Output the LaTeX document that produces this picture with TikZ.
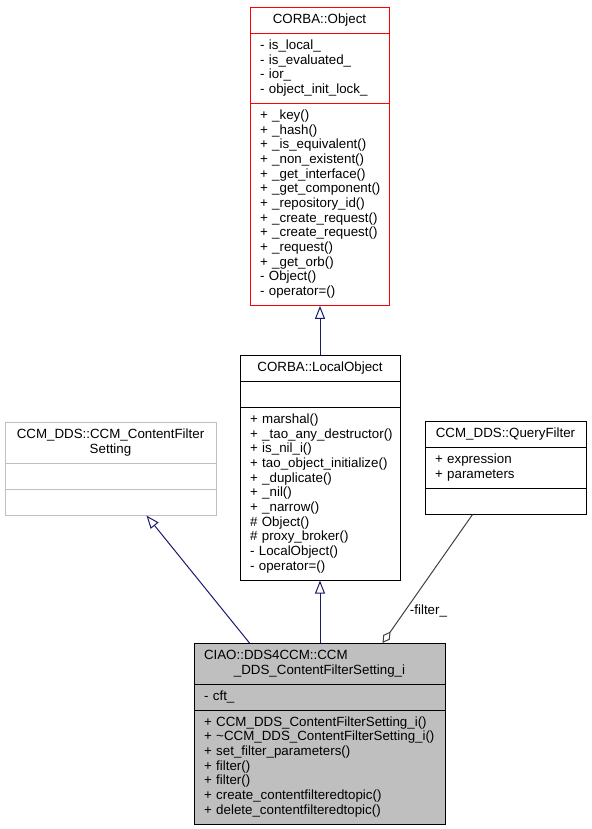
\documentclass[tikz,border=0pt]{standalone}
\usepackage{fontspec}
\setmainfont{Liberation Sans}
\usepackage{tikz}
\usetikzlibrary{shapes,% multipart rectangles for the class boxes
arrows.meta}%          open triangle and diamond tips
\definecolor{edgeblue}{HTML}{191970}
\definecolor{boxgray}{HTML}{BFBFBF}
\definecolor{aggray}{HTML}{404040}
\tikzset{every node/.style={font=\fontsize{10}{11}\selectfont},
  umlclass/.style={draw, line width=0.75pt, rectangle split, rectangle split parts=3,
    inner xsep=7.5pt, inner ysep=3.86pt, align=left, anchor=north},
  inherit/.style={edgeblue, line width=0.75pt, -{Triangle[open,length=9.75pt,width=7.5pt]}},
  aggregate/.style={aggray, line width=0.75pt, -{Diamond[open,length=10.5pt,width=6pt]}}}

\begin{document}
\begin{tikzpicture}[x=0.75pt, y=-0.75pt]
  \useasboundingbox (0,0) rectangle (592,829);
  % base classes
  \node[umlclass, draw=red, text width=89.25pt] (obj) at (319.5,7)
    {\makebox[\hsize]{\strut CORBA::Object}
     \nodepart{second}\strut -~is\_local\_\\ -~is\_evaluated\_\\ -~ior\_\\ -~object\_init\_lock\_\strut
     \nodepart{third}\strut +~\_key()\\ +~\_hash()\\ +~\_is\_equivalent()\\ +~\_non\_existent()\\
       +~\_get\_interface()\\ +~\_get\_component()\\ +~\_repository\_id()\\ +~\_create\_request()\\
       +~\_create\_request()\\ +~\_request()\\ +~\_get\_orb()\\ -~Object()\\ -~operator=()\strut};
  \node[umlclass, text width=105pt] (lobj) at (320,355)
    {\makebox[\hsize]{\strut CORBA::LocalObject}
     \nodepart{second}\strut
     \nodepart{third}\strut +~marshal()\\ +~\_tao\_any\_destructor()\\ +~is\_nil\_i()\\
       +~tao\_object\_initialize()\\ +~\_duplicate()\\ +~\_nil()\\ +~\_narrow()\\ \#~Object()\\
       \#~proxy\_broker()\\ -~LocalObject()\\ -~operator=()\strut};
  \node[umlclass, draw=boxgray, text width=143.25pt] (cfs) at (110.5,422)
    {\makebox[\hsize]{\strut CCM\_DDS::CCM\_ContentFilter}\\ \makebox[\hsize]{Setting\strut}
     \nodepart{second}\strut
     \nodepart{third}\strut};
  \node[umlclass, text width=105.75pt] (qf) at (505.5,421)
    {\makebox[\hsize]{\strut CCM\_DDS::QueryFilter}
     \nodepart{second}\strut +~expression\\ +~parameters\strut
     \nodepart{third}\strut};
  % the implementation class
  \node[umlclass, fill=boxgray, text width=173.25pt] (impl) at (319.5,643)
    {\strut CIAO::DDS4CCM::CCM\\ \makebox[\hsize]{\_DDS\_ContentFilterSetting\_i\strut}
     \nodepart{second}\strut -~cft\_\strut
     \nodepart{third}\strut +~CCM\_DDS\_ContentFilterSetting\_i()\\
       +~\textasciitilde CCM\_DDS\_ContentFilterSetting\_i()\\ +~set\_filter\_parameters()\\
       +~filter()\\ +~filter()\\ +~create\_contentfilteredtopic()\\
       +~delete\_contentfilteredtopic()\strut};
  % relations
  \draw[inherit] (lobj.north) -- (lobj.north |- obj.south);
  \draw[inherit] (lobj.south |- impl.north) -- (lobj.south);
  \draw[inherit] ([xshift=42pt]impl.north west) -- ([xshift=106.5pt]cfs.south west);
  \draw[aggregate] ([xshift=36pt]qf.south west) -- node[pos=0.75, right, text=black] {-filter\_}
    ([xshift=141.75pt]impl.north west);
\end{tikzpicture}
\end{document}
